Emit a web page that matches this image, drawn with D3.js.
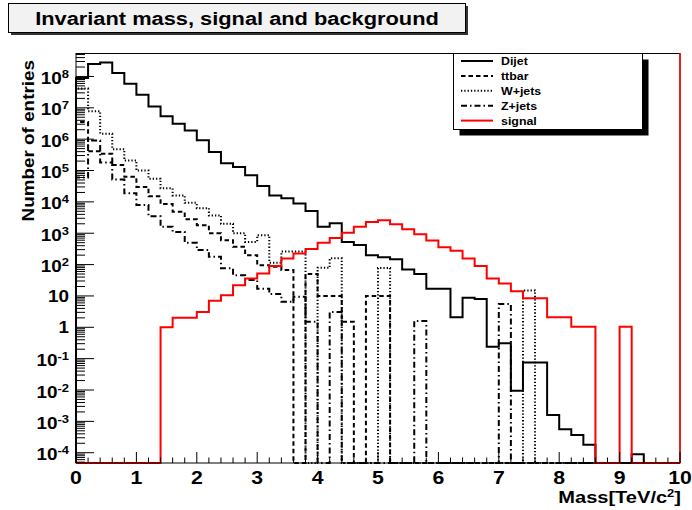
<!DOCTYPE html>
<html>
<head>
<meta charset="utf-8">
<script src="https://cdn.jsdelivr.net/npm/d3@7"></script>
<style>
  html, body { margin: 0; padding: 0; background: #fff; }
  svg { display: block; font-family: "Liberation Sans", Arial, Helvetica, sans-serif; font-weight: bold; }
</style>
</head>
<body>
<svg id="chart" width="692" height="510"></svg>
<script>
// ---------------------------------------------------------------------------
//  Invariant mass, signal and background — 50 bins of 0.2 TeV, log y axis
// ---------------------------------------------------------------------------
const nBins = 50, massMin = 0, massMax = 10;

const dijet = [8.9e7, 2.5e8, 2.8e8, 1.3e8, 5.9e7, 2.6e7, 1.1e7, 5.4e6, 3.1e6, 1.9e6,
               9.2e5, 3.9e5, 1.7e5, 1.3e5, 7.1e4, 3.2e4, 1.6e4, 1.3e4, 8.9e3, 5.1e3,
               1.6e3, 2.1e3, 530, 420, 200, 170, 147, 70, 50, 17,
               17, 2.1, 8.8, 8, 0.24, 0.31, 0.0094, 0.075, 0.075, 0.0016,
               5.6e-4, 3.7e-4, 1.8e-4, 0, 0, 0, 9e-5, 0, 0, 0];
const ttbar = [3.5e6, 4.1e5, 3.4e5, 1.5e5, 6.3e4, 3.0e4, 1.5e4, 8.5e3, 4.8e3, 2.8e3,
               1.8e3, 1.0e3, 600, 370, 200, 96, 85, 67, 0, 50,
               10, 10, 1.5, 0, 10, 10, 0, 0, 0, 0,
               0, 0, 0, 0, 0, 0, 0, 0, 0, 0,
               0, 0, 0, 0, 0, 0, 0, 0, 0, 0];
const wjets = [4.1e7, 7.8e6, 1.5e6, 4.8e5, 2.1e5, 1.0e5, 5.5e4, 2.7e4, 1.6e4, 9.3e3,
               6.3e3, 3.7e3, 2.0e3, 990, 530, 870, 115, 260, 260, 0,
               79, 158, 0, 0, 0, 78, 0, 0, 0, 0,
               0, 0, 0, 0, 0, 0, 0, 15, 0, 0,
               0, 0, 0, 0, 0, 0, 0, 0, 0, 0];
const zjets = [6e4, 9e5, 1.8e5, 5.2e4, 1.9e4, 7.9e3, 3.5e3, 1.6e3, 1.1e3, 500,
               290, 178, 76, 46, 32, 17, 11.5, 6.5, 9.4, 1.5,
               0, 3.1, 0, 0, 0, 0, 0, 0, 1.6, 0,
               0, 0, 0, 0, 0, 5.5, 0, 0, 0, 0,
               0, 0, 0, 0, 0, 0, 0, 0, 0, 0];
const signal = [0, 0, 0, 0, 0, 0, 0, 1, 2, 2,
                3.1, 7, 10.5, 22, 36, 52, 90, 157, 225, 315,
                500, 700, 1030, 1600, 2300, 2600, 1950, 1350, 930, 590,
                360, 275, 157, 90, 36, 25, 14, 8.4, 8.4, 2.1,
                2.1, 1.05, 1.05, 0, 0, 1.05, 0, 0, 0, 0];

const xTicks = d3.range(0, 11);          // 0 .. 10
const yExponents = d3.range(-4, 9);      // 10^-4 .. 10^8
const titleText = 'Invariant mass, signal and background';

const series = [
  { name: 'Dijet',  values: dijet,  color: '#000', dash: null },
  { name: 'ttbar',  values: ttbar,  color: '#000', dash: '4.5,3' },
  { name: 'W+jets', values: wjets,  color: '#000', dash: '1.3,2' },
  { name: 'Z+jets', values: zjets,  color: '#000', dash: '6,3,1.5,3' },
  { name: 'signal', values: signal, color: '#ff0000', dash: null },
];

// frame
const F = { left: 76, right: 680, top: 53, bottom: 463 };
const STRETCH = 1.18;   // ROOT's helvetica renders wider than Liberation

const svg = d3.select('#chart');
const x = d3.scaleLinear([massMin, massMax], [F.left, F.right]);
const y = d3.scaleLog([4.7e-5, 5.6e8], [F.bottom, F.top]);
const edges = d3.range(nBins + 1).map(i => massMin + i * (massMax - massMin) / nBins);
const yv = v => v > 0 ? y(v) : F.bottom;

// text helper: anchor at (px,py), stretched along the text direction
function label(g, px, py, txt, size, anchor, rot) {
  return g.append('text')
    .attr('transform', `translate(${px},${py})` + (rot ? ` rotate(${rot})` : '') + ` scale(${STRETCH},1)`)
    .attr('text-anchor', anchor).style('font-size', size + 'px').text(txt);
}

// ---- title box
svg.append('rect').attr('x', 11).attr('y', 6).attr('width', 457).attr('height', 29).attr('fill', '#333');
svg.append('rect').attr('x', 8.5).attr('y', 3.5).attr('width', 457).attr('height', 29)
  .attr('fill', '#f2f2f2').attr('stroke', '#000').attr('stroke-width', 1);
label(svg, 237, 25, titleText, 18.5, 'middle');

// ---- histograms
const plot = svg.append('g');
const line = d3.line();
function stepPoints(vals) {
  const pts = [[x(edges[0]), F.bottom]];
  vals.forEach((v, i) => { pts.push([x(edges[i]), yv(v)]); pts.push([x(edges[i + 1]), yv(v)]); });
  pts.push([x(edges[nBins]), F.bottom]);
  return pts;
}
plot.selectAll('path.h').data(series).join('path').attr('class', 'h')
  .attr('d', s => line(stepPoints(s.values)))
  .attr('fill', 'none').attr('stroke', s => s.color).attr('stroke-width', 2)
  .attr('stroke-dasharray', s => s.dash).attr('stroke-linejoin', 'miter');

// ---- frame + axes
svg.append('rect').attr('x', F.left).attr('y', F.top + 0.5)
  .attr('width', F.right - F.left).attr('height', F.bottom - F.top - 0.5)
  .attr('fill', 'none').attr('stroke', '#000').attr('stroke-width', 1);
// red right edge of the signal histogram
svg.append('line').attr('x1', x(massMax)).attr('x2', x(massMax))
  .attr('y1', F.top).attr('y2', F.bottom).attr('stroke', '#ff0000').attr('stroke-width', 1.5);

const ax = svg.append('g').attr('stroke', '#000').attr('stroke-width', 1);
// x ticks
d3.range(0, 51).forEach(i => {
  const v = i * 0.2, major = i % 5 === 0;
  ax.append('line').attr('x1', x(v)).attr('x2', x(v))
    .attr('y1', F.bottom).attr('y2', F.bottom - (major ? 11 : 5.5));
});
// y ticks (log)
yExponents.forEach(e => {
  ax.append('line').attr('x1', F.left).attr('x2', F.left + 18).attr('y1', y(10 ** e)).attr('y2', y(10 ** e));
});
d3.range(-5, 9).forEach(e => d3.range(2, 10).forEach(m => {
  const v = m * 10 ** e;
  if (v < y.domain()[0] || v > y.domain()[1]) return;
  ax.append('line').attr('x1', F.left).attr('x2', F.left + 9).attr('y1', y(v)).attr('y2', y(v));
}));

// x tick labels
xTicks.forEach(t => label(svg, x(t), 484, String(t), 18, 'middle'));

// y tick labels
yExponents.forEach(e => {
  const py = y(10 ** e);
  const t = svg.append('text')
    .attr('transform', `translate(69,${py + (e === 0 || e === 1 ? 6 : 7.5)}) scale(${STRETCH},1)`)
    .attr('text-anchor', 'end').style('font-size', '16px');
  if (e === 0) t.text('1');
  else if (e === 1) t.text('10');
  else {
    t.append('tspan').text('10');
    t.append('tspan').attr('dy', -6).style('font-size', '11px').text(String(e));
  }
});

// axis titles
const xt = svg.append('text')
  .attr('transform', `translate(681,503) scale(${STRETCH},1)`)
  .attr('text-anchor', 'end').style('font-size', '17px');
xt.append('tspan').text('Mass[TeV/c');
xt.append('tspan').attr('dy', -6).style('font-size', '11px').text('2');
xt.append('tspan').attr('dy', 6).text(']');
label(svg, 34, 60, 'Number of entries', 16, 'end', -90);

// ---- legend
const L = { x: 453.5, y: 53.5, w: 189, h: 76 };
svg.append('rect').attr('x', L.x + 6).attr('y', L.y + 6).attr('width', L.w).attr('height', L.h).attr('fill', '#000');
svg.append('rect').attr('x', L.x).attr('y', L.y).attr('width', L.w).attr('height', L.h)
  .attr('fill', '#fff').attr('stroke', '#000').attr('stroke-width', 1);
const lg = svg.append('g').selectAll('g').data(series).join('g')
  .attr('transform', (s, i) => `translate(0,${61 + i * 14.9})`);
lg.append('line').attr('x1', 461).attr('x2', 493).attr('y1', 0).attr('y2', 0)
  .attr('stroke', s => s.color).attr('stroke-width', 2).attr('stroke-dasharray', s => s.dash);
lg.each(function (s) { label(d3.select(this), 501, 4, s.name, 10.5, 'start'); });
</script>
</body>
</html>
